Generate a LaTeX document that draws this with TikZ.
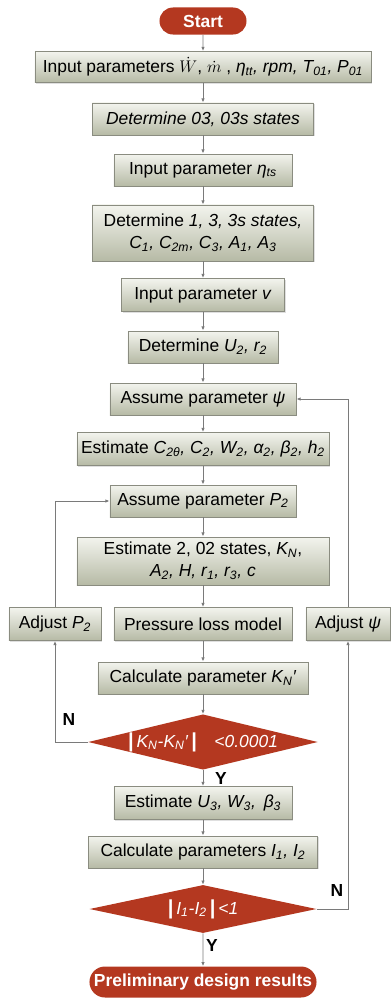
\documentclass[tikz,border=0pt]{standalone}
\usepackage{fontspec}
\setmainfont{Liberation Sans}
\usetikzlibrary{shapes.geometric,shapes.misc,shadows,arrows.meta}
\definecolor{boxtop}{HTML}{F3F4EE}
\definecolor{boxbot}{HTML}{B6BAA5}
\definecolor{boxline}{HTML}{8A8C80}
\definecolor{termred}{HTML}{B43820}
\definecolor{flowline}{HTML}{7A7A7A}
\newcommand{\sbs}[1]{\textsubscript{#1}}

\begin{document}
\begin{tikzpicture}[x=0.025cm,y=-0.025cm,
	every node/.style={font=\fontsize{12.4}{15.6}\selectfont, align=center, inner sep=0pt},
	procbox/.style={rectangle, draw=boxline, line width=0.6pt, top color=boxtop, bottom color=boxbot,
		drop shadow={opacity=0.25, shadow xshift=1pt, shadow yshift=-1pt}, minimum height=0.8cm},
	termbox/.style={rounded rectangle, fill=termred, text=white, font=\fontsize{12.4}{15.6}\selectfont\bfseries},
	decbox/.style={diamond, fill=termred, text=white},
	flow/.style={draw=flowline, line width=0.6pt, -{Latex[length=3pt,width=2.5pt]}}]
	\useasboundingbox (0,0) rectangle (392,1001);
	% main column
	\node[termbox, minimum width=2.175cm, minimum height=0.675cm] (start) at (203,21) {Start};
	\node[procbox, minimum width=8.4cm, minimum height=0.775cm] (inp) at (203,67)
		{Input parameters $\dot{W}$, $\dot{m}$ , \textit{η\sbs{tt}, rpm, T\sbs{01}, P\sbs{01}}};
	\node[procbox, minimum width=5.525cm] (det03) at (203,119) {\textit{Determine 03, 03s states}};
	\node[procbox, minimum width=4.45cm] (inpeta) at (203,170) {Input parameter \textit{η\sbs{ts}}};
	\node[procbox, minimum width=5.525cm, minimum height=1.4cm] (det13) at (203,233)
		{Determine \textit{1, 3, 3s states,}\\ \textit{C\sbs{1}, C\sbs{2m}, C\sbs{3}, A\sbs{1}, A\sbs{3}}};
	\node[procbox, minimum width=4.075cm, minimum height=0.825cm] (inpv) at (203,295) {Input parameter \textit{v}};
	\node[procbox, minimum width=3.75cm] (detU) at (203,347) {Determine \textit{U\sbs{2}, r\sbs{2}}};
	\node[procbox, minimum width=4.65cm] (asspsi) at (203,399) {Assume parameter \textit{ψ}};
	\node[procbox, minimum width=6.3cm, minimum height=0.825cm] (estC) at (203,449)
		{Estimate \textit{C\sbs{2θ}, C\sbs{2}, W\sbs{2}, α\sbs{2}, β\sbs{2}, h\sbs{2}}};
	\node[procbox, minimum width=4.65cm] (assP) at (203,501) {Assume parameter \textit{P\sbs{2}}};
	\node[procbox, minimum width=6.3cm, minimum height=1.2cm] (est02) at (203,561)
		{Estimate 2, 02 states, \textit{K\sbs{N}},\\ \textit{A\sbs{2}, H, r\sbs{1}, r\sbs{3}, c}};
	\node[procbox, minimum width=4.45cm, minimum height=0.825cm] (loss) at (203,624) {Pressure loss model};
	\node[procbox, minimum width=2.3cm, minimum height=0.825cm] (adjP) at (55,624) {Adjust \textit{P\sbs{2}}};
	\node[procbox, minimum width=2.1cm, minimum height=0.825cm] (adjpsi) at (348,624) {Adjust \textit{ψ}};
	\node[procbox, minimum width=5.25cm] (calcK) at (203,678) {Calculate parameter \textit{K\sbs{N}′}};
	\node[decbox, aspect=4.15, minimum width=5.7cm, minimum height=1.375cm] (chkK) at (203,742)
		{{\Large\bfseries|}\,\textit{K\sbs{N}-K\sbs{N}′}\,{\Large\bfseries|}\quad\textit{<0.0001}};
	\node[procbox, minimum width=4.45cm, minimum height=0.825cm] (estU) at (203,803)
		{Estimate \textit{U\sbs{3}, W\sbs{3}, \,β\sbs{3}}};
	\node[procbox, minimum width=5.725cm] (calcI) at (203,852) {Calculate parameters \textit{I\sbs{1}, I\sbs{2}}};
	\node[decbox, aspect=4.7, minimum width=5.675cm, minimum height=1.2cm] (chkI) at (203,909)
		{{\Large\bfseries|}\,\textit{I\sbs{1}-I\sbs{2}}\,{\Large\bfseries|}\,\textit{<1}};
	\node[termbox, minimum width=5.675cm, minimum height=0.775cm] (result) at (203,982) {Preliminary design results};
	% branch labels
	\node[font=\fontsize{12.4}{15.6}\selectfont\bfseries] (noK) at (69,719) {N};
	\node[font=\fontsize{12.4}{15.6}\selectfont\bfseries] (yesK) at (221,778) {Y};
	\node[font=\fontsize{12.4}{15.6}\selectfont\bfseries] (noI) at (337,890) {N};
	\node[font=\fontsize{12.4}{15.6}\selectfont\bfseries] (yesI) at (212,945) {Y};
	% connectors
	\draw[flow] (start) -- (inp);
	\draw[flow] (inp) -- (det03);
	\draw[flow] (det03) -- (inpeta);
	\draw[flow] (inpeta) -- (det13);
	\draw[flow] (det13) -- (inpv);
	\draw[flow] (inpv) -- (detU);
	\draw[flow] (detU) -- (asspsi);
	\draw[flow] (asspsi) -- (estC);
	\draw[flow] (estC) -- (assP);
	\draw[flow] (assP) -- (est02);
	\draw[flow] (est02) -- (loss);
	\draw[flow] (loss) -- (calcK);
	\draw[flow] (calcK) -- (chkK);
	\draw[flow] (chkK) -- (estU);
	\draw[flow] (estU) -- (calcI);
	\draw[flow] (calcI) -- (chkI);
	\draw[flow] (chkI) -- (result);
	\draw[flow] (chkK.west) -| (adjP.south);
	\draw[flow] (adjP.north) |- (assP.west);
	\draw[flow] (chkI.east) -| (adjpsi.south);
	\draw[flow] (adjpsi.north) |- (asspsi.east);
\end{tikzpicture}
\end{document}
